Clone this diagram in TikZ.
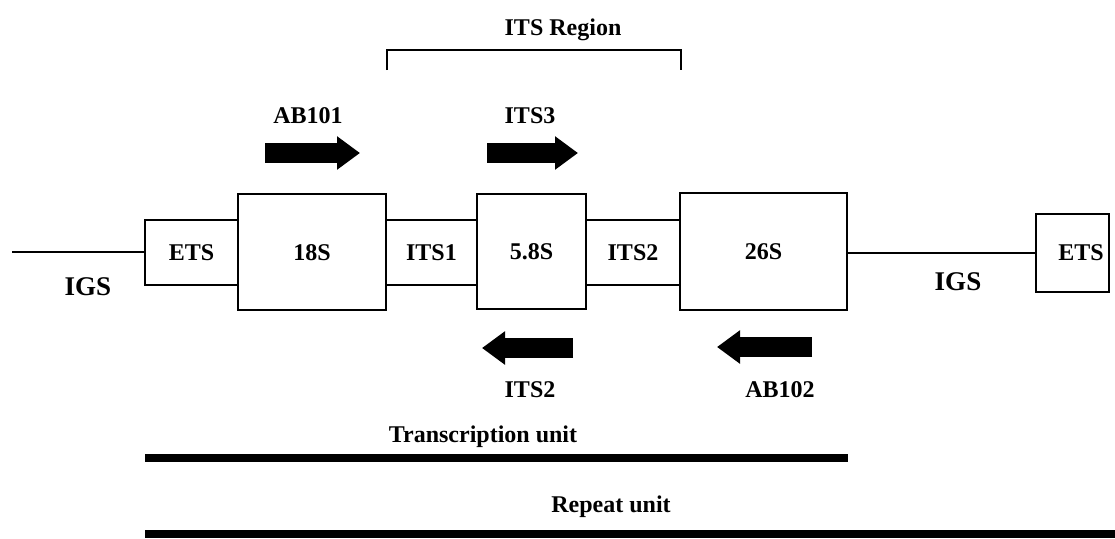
\documentclass[tikz,border=0pt]{standalone}
\usepackage{fontspec}
\setmainfont{Liberation Serif}
\usetikzlibrary{arrows.meta}
\tikzset{
	gene/.style={draw=black,line width=1pt,inner sep=0pt,
    minimum width=#1,text height=8pt,text depth=0pt},
	spacer/.style={gene=#1,minimum height=32.5pt},
	primer/.style={line width=10pt,-{Triangle[length=11.5pt,width=16pt]}},
	unitbar/.style={line width=3.75pt},
	lbl/.style={inner sep=0pt}
		}
\def\igs{\fontsize{13.5}{15}\selectfont}% the spacer labels are a bit larger

\begin{document}
\begin{tikzpicture}[x=0.5pt,y=-0.5pt,font=\fontsize{12}{14}\selectfont\bfseries]
   \useasboundingbox (0,0) rectangle (1115,538);

   % the repeat: boxes of the rDNA unit
   \node[spacer=46.5pt] (etsL) at (191.5,252) {ETS};
   \node[gene=74pt,minimum height=58pt] (s18) at (312,252) {18S};
   \node[spacer=45.5pt] (its1) at (431.5,252) {ITS1};
   \node[gene=54.5pt,minimum height=57.5pt] (s58) at (531.5,251) {5.8S};
   \node[spacer=47pt] (its2) at (633,252.5) {ITS2};
   \node[gene=83.5pt,minimum height=58.5pt] (s26) at (763.5,251.5) {26S};
   \node[gene=36.5pt,minimum height=39pt] (etsR) at (1072.5,253) {};
   \node[lbl] (etsRt) at (1081,253) {ETS};

   % intergenic spacer on both sides
   \coordinate (igsStart) at (12,0);
   \draw[line width=1pt] (igsStart |- etsL.west) -- (etsL.west);
   \draw[line width=1pt] (s26.east |- etsR.west) -- (etsR.west);
   \node[lbl,font=\igs\bfseries] (igsL) at (88,287) {IGS};
   \node[lbl,font=\igs\bfseries] (igsR) at (958,282) {IGS};

   % ITS region bracket
   \draw[line width=1pt] (s18.east |- 0,70) -- (s18.east |- 0,50)
     -- (its2.east |- 0,50) -- (its2.east |- 0,70);
   \node[lbl] (itsreg) at (563,30) {ITS Region};

   % primers
   \coordinate (ab101s) at (265,153); \coordinate (ab101e) at (360,153);
   \coordinate (its3s) at (487,153);  \coordinate (its3e) at (578,153);
   \coordinate (its2s) at (573,348);  \coordinate (its2e) at (482,348);
   \coordinate (ab102s) at (812,347); \coordinate (ab102e) at (717,347);
   \draw[primer] (ab101s) -- (ab101e);
   \draw[primer] (its3s) -- (its3e);
   \draw[primer] (its2s) -- (its2e);
   \draw[primer] (ab102s) -- (ab102e);
   \node[lbl] (ab101) at (308,116) {AB101};
   \node[lbl] (its3) at (530,116) {ITS3};
   \node[lbl] (its2p) at (530,390) {ITS2};
   \node[lbl] (ab102) at (780,390) {AB102};

   % transcription unit and repeat unit
   \coordinate (tuS) at (145,458); \coordinate (tuE) at (848,458);
   \coordinate (ruS) at (145,534); \coordinate (ruE) at (1115,534);
   \draw[unitbar] (tuS) -- (tuE);
   \draw[unitbar,line width=4pt] (ruS) -- (ruE);
   \node[lbl] (tu) at (483,437) {Transcription unit};
   \node[lbl] (ru) at (611,507) {Repeat unit};
\end{tikzpicture}
\end{document}
